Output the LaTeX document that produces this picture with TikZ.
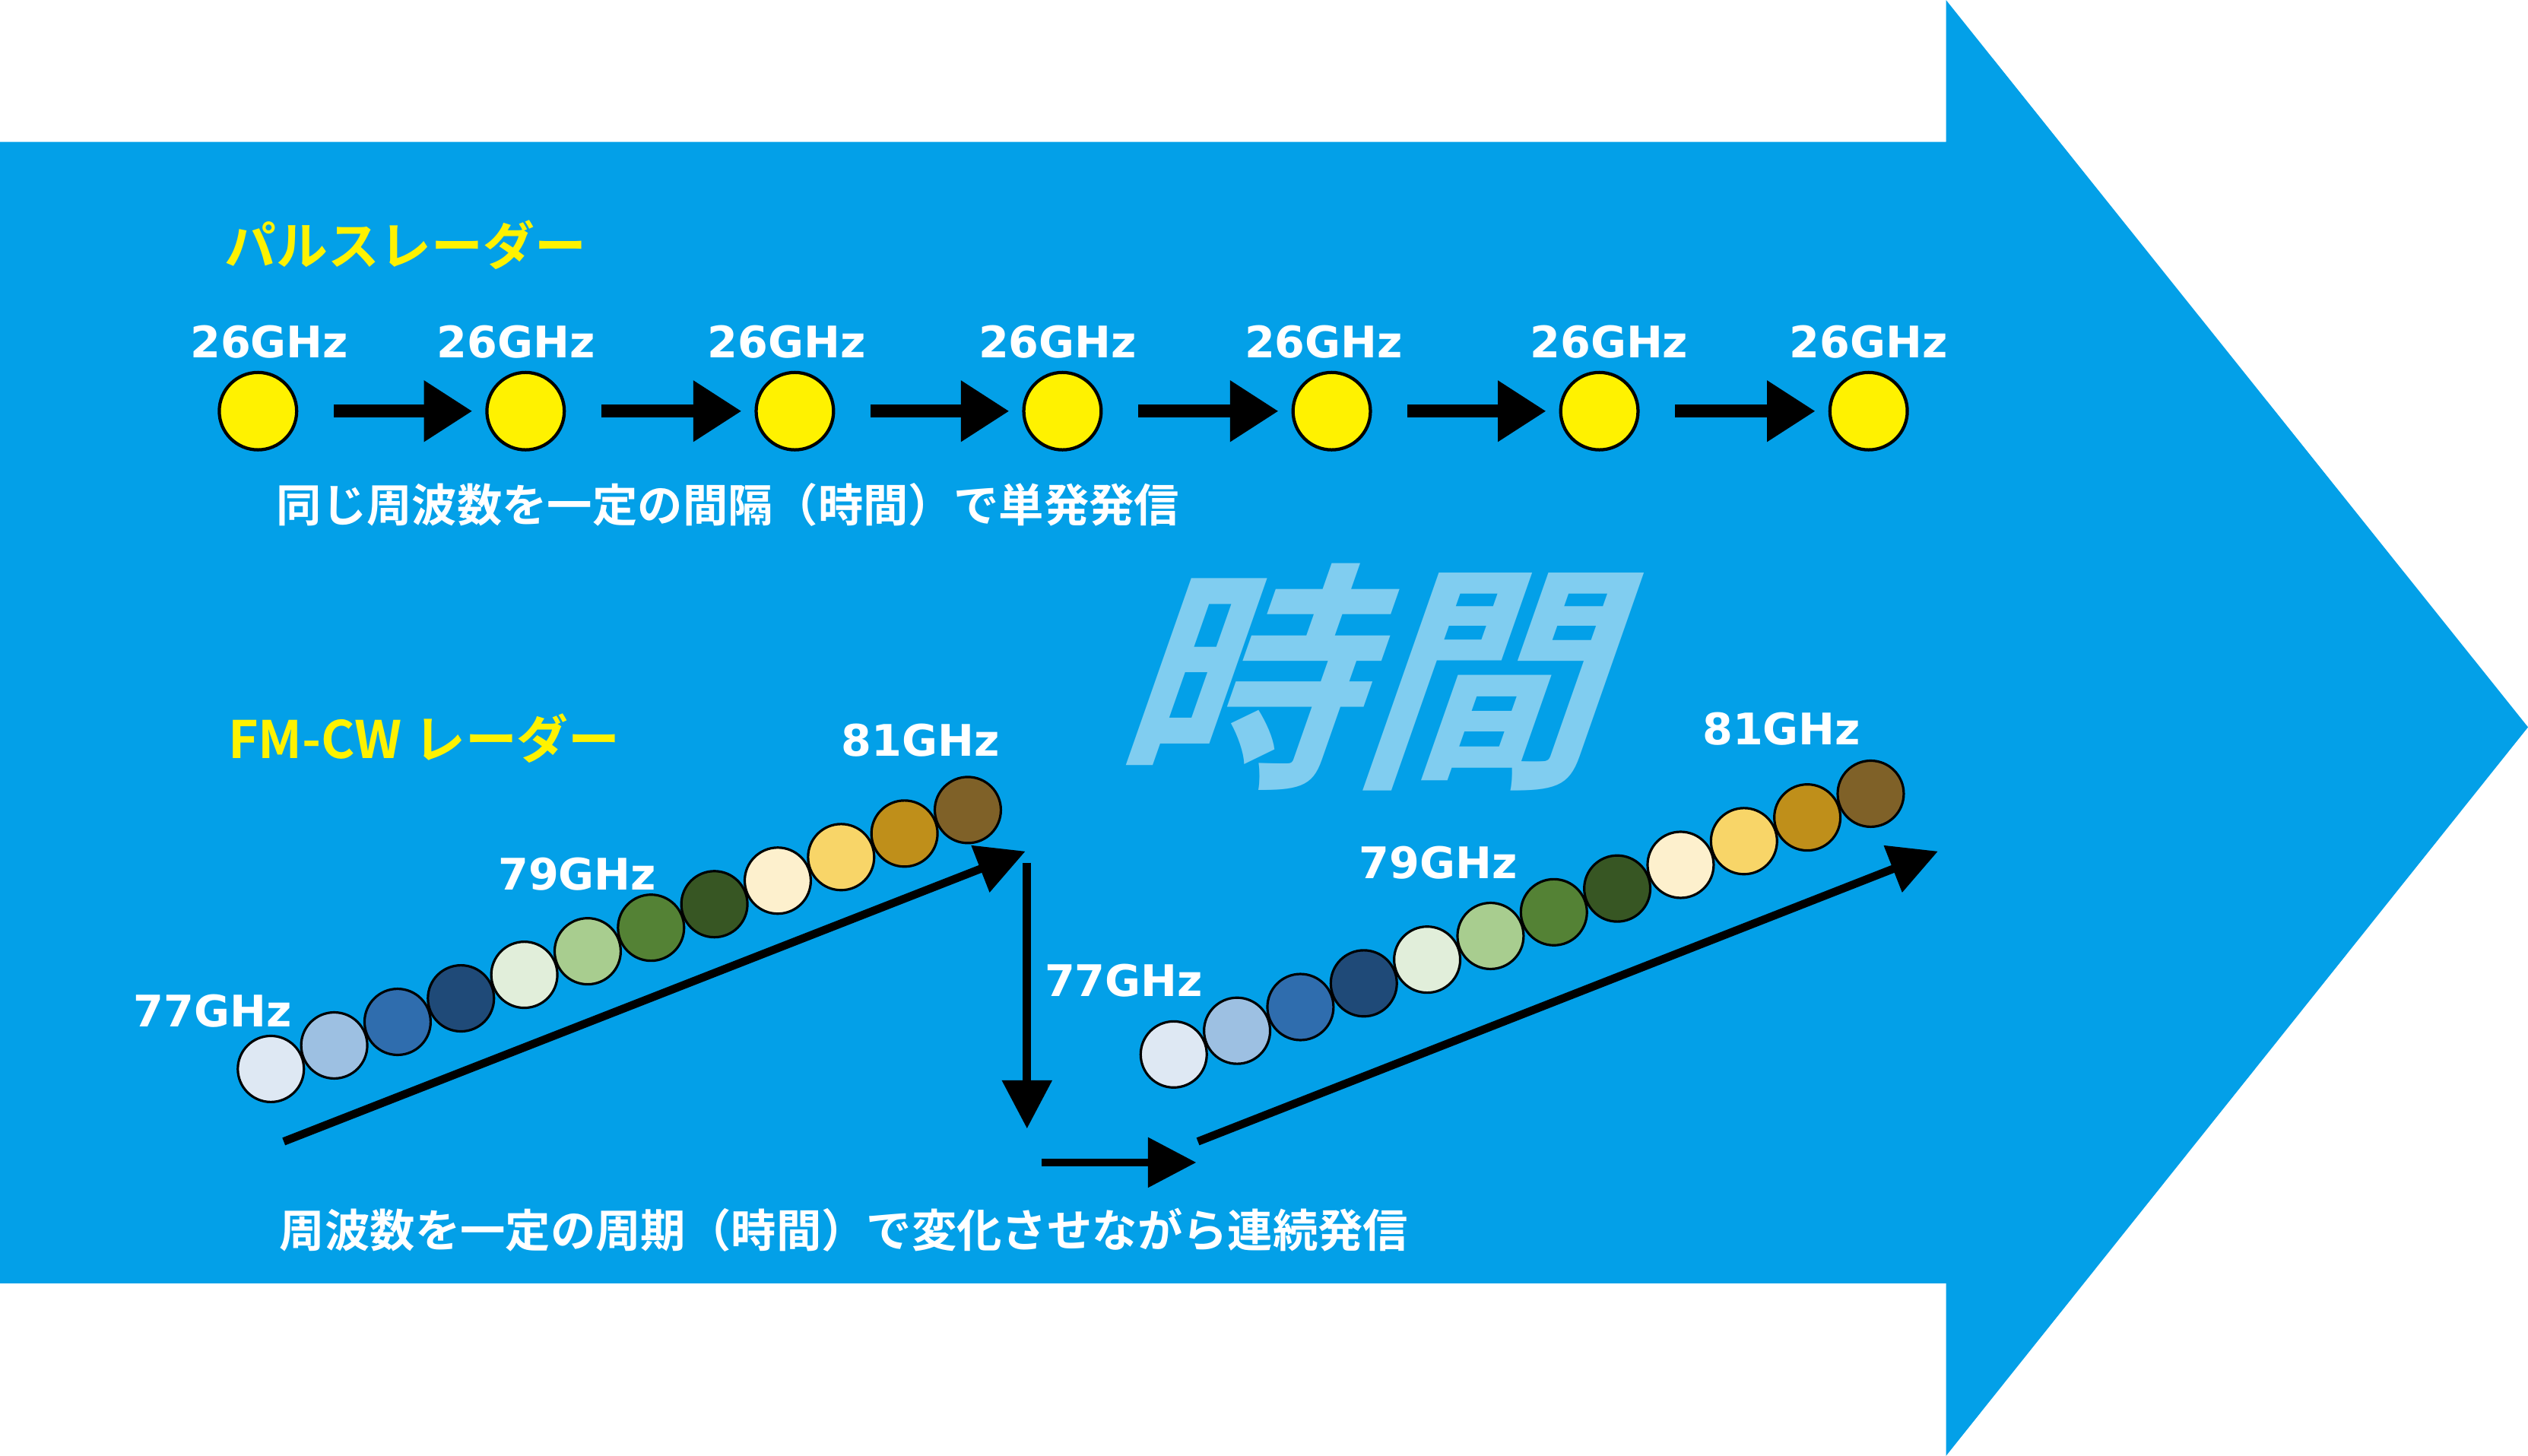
\documentclass[tikz,border=0pt]{standalone}
\usepackage{fontspec}
\setmainfont{DejaVu Sans}
\newfontfamily\jp{Noto Sans CJK JP Bold}
\usetikzlibrary{arrows.meta}
\definecolor{bg}{HTML}{03A0E8}
\definecolor{ttl}{HTML}{FFF200}
\definecolor{big}{HTML}{80CDF0}
\tikzset{
 lbl/.style={text=white,font=\fontsize{27}{27}\selectfont\bfseries},
 jptxt/.style={text=white,font=\fontsize{28}{28}\selectfont\jp},
 title/.style={text=ttl,font=\fontsize{32}{32}\selectfont\jp,anchor=west},
 dot/.style={circle,draw=black,line width=2pt,minimum size=48pt,inner sep=0pt,fill=yellow},
 sdot/.style={circle,draw=black,line width=1.5pt,minimum size=41pt,inner sep=0pt},
 parr/.style={line width=8pt,-{Triangle[length=30pt,width=36pt]}},
 farr/.style={line width=5pt,-{Triangle[length=30pt,width=30pt]}},
}
\begin{document}
\begin{tikzpicture}[x=1pt,y=-1pt]
\useasboundingbox (0,0) rectangle (1568,903);
\fill[bg] (0,88) -- (1207,88) -- (1207,0) -- (1568,451) -- (1207,903) -- (1207,796) -- (0,796) -- cycle;
\node[text=big,font=\fontsize{150}{150}\selectfont\jp,xslant=0.35] (bigt) at (858,420) {時間};
\node[title] (t1) at (136,152) {パルスレーダー};
\node[title] (t2) at (138,458) {FM-CW レーダー};
\foreach \x/\lx [count=\i] in {160/167,326/320,493/488,659/656,826/821,992/998,1159/1159}{
  \node[dot] (p\i) at (\x,255) {};
  \node[lbl] (pl\i) at (\lx,212) {26GHz};
}
\foreach \i [evaluate=\i as \j using int(\i+1)] in {1,...,6}{
  \draw[parr] ([xshift=22pt]p\i.east) -- ([xshift=-8pt]p\j.west);
}
\node[jptxt,anchor=west] (s1) at (168,313) {同じ周波数を一定の間隔（時間）で単発発信};
\node[jptxt,anchor=west] (s2) at (170,763) {周波数を一定の周期（時間）で変化させながら連続発信};
\foreach \c [count=\i] in {DEE8F3,9DC0E2,2F6DAE,1F4A78,E1EEDA,A8CD8F,548235,375623,FDF0CD,F8D568,BF8F1A,7F6128}{
  \definecolor{cc}{HTML}{\c}
  \node[sdot,fill=cc] (a\i) at ({168+(\i-1)*39.3},{663-(\i-1)*14.6}) {};
  \node[sdot,fill=cc] (b\i) at ({728+(\i-1)*39.3},{654-(\i-1)*14.7}) {};
}
\node[lbl] (la1) at (132,627) {77GHz};
\node[lbl] (la2) at (358,542) {79GHz};
\node[lbl] (la3) at (571,459) {81GHz};
\node[lbl] (lb1) at (697,608) {77GHz};
\node[lbl] (lb2) at (892,535) {79GHz};
\node[lbl] (lb3) at (1105,452) {81GHz};
\coordinate (c1) at (176,708); \coordinate (c2) at (636,528);
\coordinate (c3) at (637,535); \coordinate (c4) at (637,700);
\coordinate (c5) at (646,721); \coordinate (c6) at (742,721);
\coordinate (c7) at (743,708); \coordinate (c8) at (1202,528);
\draw[farr] (c1) -- (c2);
\draw[farr] (c3) -- (c4);
\draw[farr] (c5) -- (c6);
\draw[farr] (c7) -- (c8);
\end{tikzpicture}
\end{document}
